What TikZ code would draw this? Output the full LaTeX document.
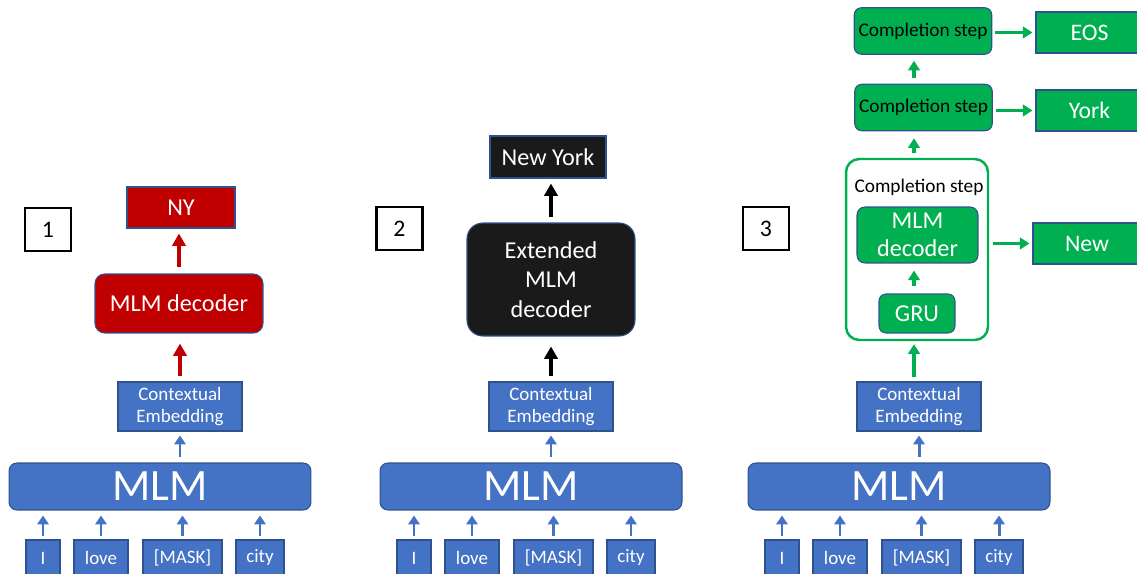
\documentclass[tikz,border=0pt]{standalone}
\usepackage{fontspec}
\setmainfont{Carlito}
\usetikzlibrary{arrows.meta,positioning}
\definecolor{cBlueF}{HTML}{4472C4}
\definecolor{cBlueD}{HTML}{2F528F}
\definecolor{cRedF}{HTML}{C00000}
\definecolor{cBlackF}{HTML}{1A1A1A}
\definecolor{cGreenF}{HTML}{00B050}
\tikzset{
  blk/.style    = {draw=cBlueD, line width=0.6pt, inner sep=1pt, align=center, text=white},
  tokbox/.style = {blk, fill=cBlueF, font=\fontsize{10.8}{12.3}\selectfont, minimum height=7.2mm},
  mlmbox/.style = {blk, fill=cBlueF, rounded corners=4.5pt, font=\fontsize{25.5}{30}\selectfont,
                   minimum width=60.4mm, minimum height=9.4mm},
  ctxbox/.style = {blk, fill=cBlueF, font=\fontsize{10.8}{12.5}\selectfont,
                   minimum width=24.8mm, minimum height=9.8mm},
  redbox/.style   = {blk, fill=cRedF, font=\fontsize{13.8}{16.5}\selectfont},
  darkbox/.style  = {blk, fill=cBlackF, font=\fontsize{13.8}{16.8}\selectfont},
  greenbox/.style = {blk, fill=cGreenF, font=\fontsize{13.8}{16}\selectfont},
  stepbox/.style  = {blk, fill=cGreenF, text=black, rounded corners=4pt,
                     font=\fontsize{11}{13}\selectfont, minimum width=27.5mm, minimum height=9.3mm},
  outbox/.style   = {greenbox, font=\fontsize{13.5}{16}\selectfont, minimum width=21.4mm, minimum height=8.2mm},
  numbox/.style   = {draw=black, line width=1.2pt, fill=white, font=\fontsize{13.5}{16}\selectfont,
                     minimum width=9.2mm, minimum height=8.6mm},
  bluearr/.style  = {cBlueF, line width=1.7pt, -{Triangle[width=6.4pt,length=5pt]}},
  redarr/.style   = {cRedF, line width=2.3pt, -{Triangle[width=7.5pt,length=7pt]}},
  darkarr/.style  = {black, line width=2.3pt, -{Triangle[width=7.5pt,length=7pt]}},
  greenarr/.style = {cGreenF, line width=1.8pt, -{Triangle[width=6.6pt,length=5.5pt]}},
}

\begin{document}
\begin{tikzpicture}[x=0.02cm, y=-0.02cm]
  \useasboundingbox (0,0) rectangle (1137,574);
  % tokens, MLM and contextual embedding (same in all three panels)
  \foreach \dx/\p in {0/a, 371/b, 739/c} {
    \node[mlmbox] (\p-mlm) at ({\dx+160},486.5) {MLM};
    \node[ctxbox] (\p-ctx) at ({\dx+180},406.5) {Contextual\\Embedding};
    \draw[bluearr, shorten <=1mm, shorten >=0.8mm] (\p-mlm.north -| \p-ctx) -- (\p-ctx.south);
    \foreach \tx/\tw/\tok [count=\i] in {43/6.8/I, 101/10.8/love, 182.5/15.8/{[MASK]}, 260/9.6/city} {
      \node[tokbox, minimum width=\tw mm] (\p-t\i) at ({\dx+\tx},558) {\tok};
      \draw[bluearr, shorten <=0.6mm, shorten >=1mm] (\p-t\i.north) -- (\p-t\i.north |- \p-mlm.south);
    }
  }
  % panel 1: plain decoder
  \node[numbox] (n1) at (48,229.5) {1};
  \node[redbox, rounded corners=5.5pt, minimum width=33.6mm, minimum height=11.8mm] (a-dec) at (179,303.5) {MLM decoder};
  \node[redbox, minimum width=21.6mm, minimum height=8.2mm] (a-out) at (181,207.5) {NY};
  \draw[redarr, shorten <=1mm, shorten >=2mm] (a-ctx.north) -- (a-ctx.north |- a-dec.south);
  \draw[redarr, shorten <=1.2mm, shorten >=1mm] (a-dec.north) -- (a-dec.north |- a-out.south);
  % panel 2: extended decoder
  \node[numbox] (n2) at (399.5,228.5) {2};
  \node[darkbox, rounded corners=9pt, minimum width=33.6mm, minimum height=22.6mm] (b-dec) at (551,279.5) {Extended\\MLM\\decoder};
  \node[darkbox, minimum width=23.2mm, minimum height=8.4mm] (b-out) at (548,157) {New York};
  \draw[darkarr, shorten <=1mm, shorten >=2mm] (b-ctx.north) -- (b-ctx.north |- b-dec.south);
  \draw[darkarr, shorten <=1mm, shorten >=1mm] (b-dec.north) -- (b-dec.north |- b-out.south);
  % panel 3: completion steps
  \node[numbox] (n3) at (766,228.5) {3};
  \coordinate (c-ax) at (914,0);
  \node[draw=cGreenF, line width=1.4pt, rounded corners=7.5pt, minimum width=28.4mm, minimum height=36.2mm] (c-ctr) at (917,249.5) {};
  \node[font=\fontsize{11}{13}\selectfont] (c-lbl) at (919,187) {Completion step};
  \node[greenbox, rounded corners=4.5pt, minimum width=24.2mm, minimum height=11.2mm] (c-dec) at (917.5,235) {MLM\\decoder};
  \node[greenbox, rounded corners=4pt, minimum width=15.2mm, minimum height=7.8mm] (c-gru) at (917,313.5) {GRU};
  \node[stepbox] (c-s2) at (923.5,107.5) {Completion step};
  \node[stepbox] (c-s1) at (923,31) {Completion step};
  \node[outbox, minimum width=21.6mm] (c-new) at (1087,243.5) {New};
  \node[outbox] (c-york) at (1089.5,110.5) {York};
  \node[outbox] (c-eos) at (1089.5,32.5) {EOS};
  \draw[greenarr, shorten <=0.8mm, shorten >=0.6mm] (c-ctx.north -| c-ax) -- (c-ctr.south -| c-ax);
  \draw[greenarr, shorten <=1.4mm, shorten >=1.4mm] (c-gru.north -| c-ax) -- (c-dec.south -| c-ax);
  \draw[greenarr, shorten <=1mm, shorten >=1.4mm] (c-ctr.north -| c-ax) -- (c-s2.south -| c-ax);
  \draw[greenarr, shorten <=1.2mm, shorten >=1.2mm] (c-s2.north -| c-ax) -- (c-s1.south -| c-ax);
  \draw[greenarr, shorten <=0.8mm, shorten >=0.6mm] (c-ctr.east |- c-new) -- (c-new.west);
  \draw[greenarr, shorten <=0.6mm, shorten >=0.6mm] (c-s2.east |- c-york) -- (c-york.west);
  \draw[greenarr, shorten <=0.6mm, shorten >=0.6mm] (c-s1.east |- c-eos) -- (c-eos.west);
\end{tikzpicture}
\end{document}
